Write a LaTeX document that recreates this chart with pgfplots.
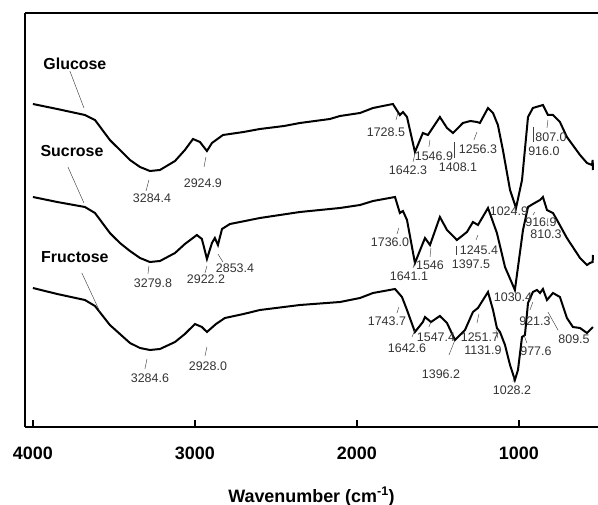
\documentclass[border=0pt]{standalone}
\usepackage{pgfplots}
\pgfplotsset{compat=1.18}
\usepackage{fontspec}
\setmainfont{Liberation Sans}
\tikzset{
  num/.style={font=\fontsize{12.5}{12.5}\selectfont, text=black!80, inner sep=0pt},
  cname/.style={font=\fontsize{16}{16}\selectfont\bfseries, inner sep=0pt},
  leader/.style={draw=black!75, line width=0.45bp},
}
\begin{document}
\begin{tikzpicture}
\begin{axis}[
  scale only axis, width=573bp, height=414bp,
  xmin=512, xmax=4049, ymin=0, ymax=414, x dir=reverse,
  axis x line*=bottom, axis y line*=left,
  axis line style={-, line width=1.2bp},
  xtick={4000,3000,2000,1000}, xticklabels={4000,3000,2000,1000},
  ytick=\empty,
  tick align=inside, major tick length=7bp,
  tick style={line width=1.2bp, black},
  xticklabel style={font=\fontsize{18}{18}\selectfont\bfseries, yshift=-16bp},
  xlabel={Wavenumber (cm\textsuperscript{-1})},
  xlabel style={font=\fontsize{18}{18}\selectfont\bfseries, at={(axis description cs:0.5,0)}, anchor=base, yshift=-75bp},
  clip=false,
]
% Glucose
\addplot[black, line width=2bp] coordinates {
(4000,323) (3850,318) (3679,312) (3617,307) (3525,287) (3463,277) (3401,267) (3339,260)
(3278,256) (3216,257) (3123,266) (3062,277) (3012,288) (2969,285) (2926,276) (2895,284)
(2827,292) (2700,295) (2599,298) (2450,301) (2352,304) (2167,308) (2105,311) (1981,314)
(1901,319) (1840,321) (1778,323) (1735,312) (1716,315) (1691,310) (1642,275) (1593,294)
(1562,292) (1488,310) (1444,299) (1407,294) (1346,304) (1300,306) (1259,305) (1241,304)
(1191,319) (1160,314) (1130,302) (1099,277) (1055,237) (1018,219) (981,247) (944,310)
(914,319) (852,322) (821,312) (790,312) (747,305) (704,290) (623,272) (580,264)
(549,262) (545,267) (543,257)
};
% Sucrose
\addplot[black, line width=2bp] coordinates {
(4000,230) (3850,225) (3679,220) (3617,214) (3525,194) (3463,184) (3401,176) (3339,169)
(3278,165) (3216,166) (3123,174) (3062,183) (2988,192) (2957,188) (2926,168) (2895,184)
(2877,189) (2858,182) (2833,198) (2784,203) (2599,209) (2352,215) (2105,219) (1981,222)
(1901,226) (1765,230) (1735,214) (1716,216) (1691,207) (1642,164) (1580,189) (1549,182)
(1488,210) (1444,197) (1383,187) (1321,195) (1284,205) (1253,202) (1191,219) (1136,194)
(1086,160) (1025,137) (975,197) (944,220) (914,223) (870,227) (852,230) (827,217)
(790,214) (765,207) (704,189) (623,169) (580,162) (562,164) (545,165) (543,172)
};
% Fructose
\addplot[black, line width=2bp] coordinates {
(4000,139) (3850,133) (3679,127) (3617,121) (3525,102) (3463,93) (3401,84) (3339,79)
(3278,77) (3216,78) (3123,85) (3062,93) (3000,103) (2957,100) (2926,95) (2870,103)
(2815,109) (2700,113) (2599,117) (2352,122) (2105,125) (1981,129) (1901,134) (1765,138)
(1722,130) (1691,117) (1642,95) (1593,105) (1580,110) (1543,105) (1488,111) (1444,104)
(1395,87) (1333,97) (1284,115) (1253,119) (1191,135) (1160,117) (1136,99) (1117,95)
(1086,82) (1055,62) (1025,47) (1006,57) (981,90) (963,92) (944,124) (914,135)
(889,137) (870,134) (852,138) (827,127) (790,134) (747,130) (704,109) (667,100)
(623,99) (580,94) (543,100)
};
% names
\node[cname] at (axis cs:3741,363) {Glucose};
\draw[leader] (axis cs:3772,356) -- (axis cs:3685,319);
\node[cname] at (axis cs:3759,276) {Sucrose};
\draw[leader] (axis cs:3784,260) -- (axis cs:3685,224);
\node[cname] at (axis cs:3741,170) {Fructose};
\draw[leader] (axis cs:3698,154) -- (axis cs:3586,115);
% glucose labels
\node[num] at (axis cs:3265,229) {3284.4}; \draw[leader] (axis cs:3284,247) -- (axis cs:3302,236);
\node[num] at (axis cs:2951,244) {2924.9}; \draw[leader] (axis cs:2932,270) -- (axis cs:2944,260);
\node[num] at (axis cs:1821,295) {1728.5}; \draw[leader] (axis cs:1747,314) -- (axis cs:1759,307);
\node[num] at (axis cs:1685,257) {1642.3}; \draw[leader] (axis cs:1642,273) -- (axis cs:1654,265);
\node[num] at (axis cs:1525,271) {1546.9}; \draw[leader] (axis cs:1549,287) -- (axis cs:1556,280);
\node[num] at (axis cs:1376,260) {1408.1}; \draw[leader] (axis cs:1401,285) -- (axis cs:1401,269);
\node[num] at (axis cs:1253,278) {1256.3}; \draw[leader] (axis cs:1259,295) -- (axis cs:1278,287);
\node[num] at (axis cs:846,276) {916.0}; \draw[leader] (axis cs:914,300) -- (axis cs:914,285);
\node[num] at (axis cs:802,290) {807.0}; \draw[leader] (axis cs:821,307) -- (axis cs:827,299);
\node[num] at (axis cs:1062,216) {1024.9};
% sucrose labels
\node[num] at (axis cs:3259,144) {3279.8}; \draw[leader] (axis cs:3284,161) -- (axis cs:3290,153);
\node[num] at (axis cs:2932,148) {2922.2}; \draw[leader] (axis cs:2926,161) -- (axis cs:2938,154);
\node[num] at (axis cs:2753,159) {2853.4}; \draw[leader] (axis cs:2858,173) -- (axis cs:2827,165);
\node[num] at (axis cs:1796,185) {1736.0}; \draw[leader] (axis cs:1741,199) -- (axis cs:1753,193);
\node[num] at (axis cs:1679,151) {1641.1}; \draw[leader] (axis cs:1642,165) -- (axis cs:1654,159);
\node[num] at (axis cs:1549,162) {1546}; \draw[leader] (axis cs:1543,179) -- (axis cs:1549,170);
\node[num] at (axis cs:1296,163) {1397.5}; \draw[leader] (axis cs:1389,181) -- (axis cs:1389,172);
\node[num] at (axis cs:1247,177) {1245.4}; \draw[leader] (axis cs:1253,192) -- (axis cs:1265,187);
\node[num] at (axis cs:864,205) {916.9}; \draw[leader] (axis cs:901,215) -- (axis cs:914,212);
\node[num] at (axis cs:833,193) {810.3}; \draw[leader] (axis cs:821,209) -- (axis cs:827,202);
\node[num] at (axis cs:1037,130) {1030.4};
% fructose labels
\node[num] at (axis cs:3278,49) {3284.6}; \draw[leader] (axis cs:3296,68) -- (axis cs:3309,58);
\node[num] at (axis cs:2920,61) {2928.0}; \draw[leader] (axis cs:2926,80) -- (axis cs:2938,71);
\node[num] at (axis cs:1815,106) {1743.7}; \draw[leader] (axis cs:1741,120) -- (axis cs:1753,114);
\node[num] at (axis cs:1691,79) {1642.6}; \draw[leader] (axis cs:1642,97) -- (axis cs:1660,90);
\node[num] at (axis cs:1512,90) {1547.4}; \draw[leader] (axis cs:1543,105) -- (axis cs:1556,100);
\node[num] at (axis cs:1481,53) {1396.2}; \draw[leader] (axis cs:1395,87) -- (axis cs:1432,72);
\node[num] at (axis cs:1241,90) {1251.7}; \draw[leader] (axis cs:1247,113) -- (axis cs:1259,104);
\node[num] at (axis cs:1222,77) {1131.9}; \draw[leader] (axis cs:1142,97) -- (axis cs:1130,89);
\node[num] at (axis cs:895,76) {977.6}; \draw[leader] (axis cs:969,92) -- (axis cs:951,84);
\node[num] at (axis cs:901,106) {921.3}; \draw[leader] (axis cs:914,125) -- (axis cs:932,117);
\node[num] at (axis cs:660,88) {809.5}; \draw[leader] (axis cs:821,115) -- (axis cs:759,97);
\node[num] at (axis cs:1043,37) {1028.2}; \draw[leader] (axis cs:1031,50) -- (axis cs:1037,45);
% top frame line
\draw[line width=1.2bp] (rel axis cs:0,1) -- (rel axis cs:1,1);
\coordinate (bl) at (rel axis cs:0,0);
\coordinate (tr) at (rel axis cs:1,1);
\end{axis}
\pgfresetboundingbox
\path ([xshift=-25bp,yshift=-78bp]bl) rectangle ([yshift=13bp]tr);
\end{tikzpicture}
\end{document}
